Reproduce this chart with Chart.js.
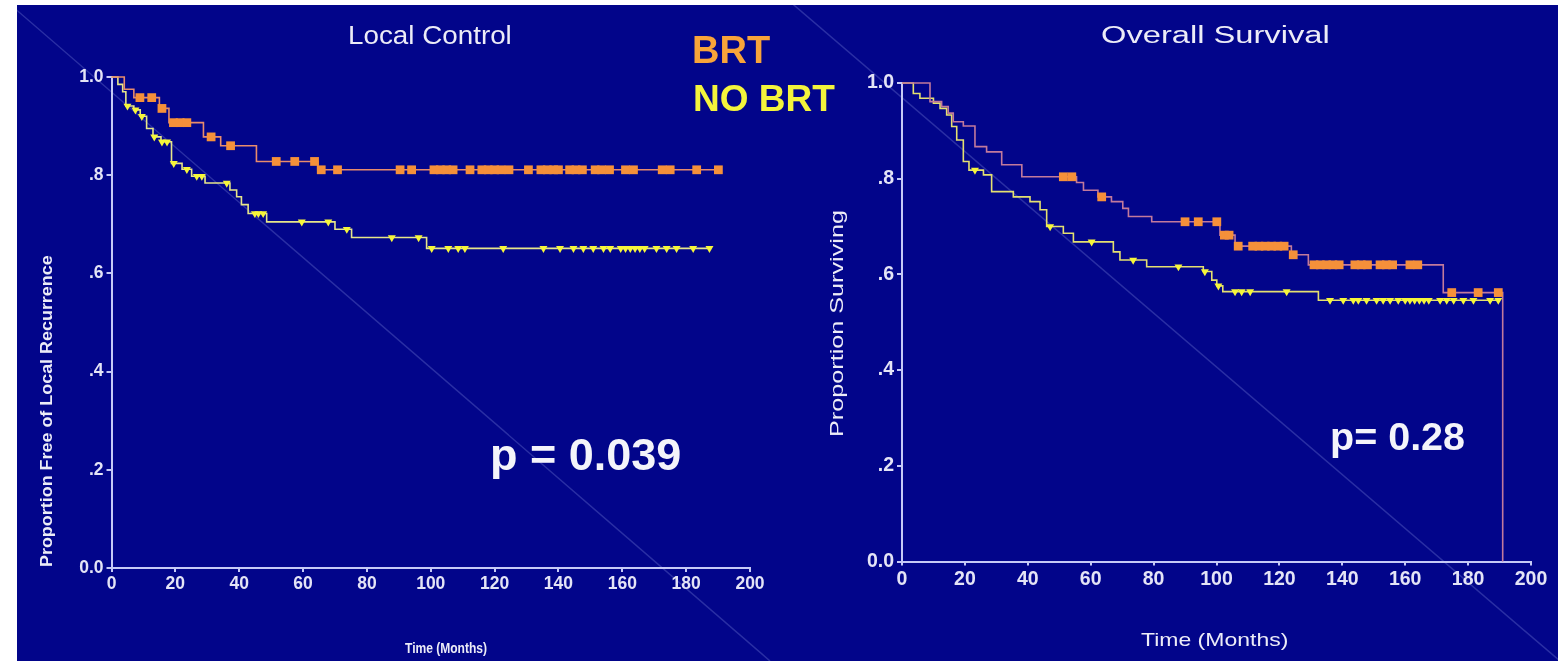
<!DOCTYPE html>
<html>
<head>
<meta charset="utf-8">
<script src="https://cdn.jsdelivr.net/npm/chart.js@4/dist/chart.umd.min.js"></script>
<style>
html,body{margin:0;padding:0;background:#fff;}
#stage{position:relative;width:1565px;height:661px;overflow:hidden;background:#fff;font-family:"Liberation Sans",Arial,sans-serif;}
#panel{position:absolute;left:17px;top:5px;width:1541px;height:656px;background:#02058a;}
#diag{position:absolute;left:0;top:0;}
canvas{position:absolute;}
.t{position:absolute;white-space:nowrap;line-height:1;transform-origin:0 0;color:#ececf7;}
</style>
</head>
<body>
<div id="stage">
  <div id="panel"></div>
  <svg id="diag" width="1565" height="661">
    <defs><clipPath id="pc"><rect x="17" y="5" width="1541" height="656"/></clipPath></defs>
    <g clip-path="url(#pc)" stroke="#2a2fa4" stroke-width="1.5">
      <line x1="5" y1="0" x2="770" y2="661"/>
      <line x1="788" y1="0" x2="1560" y2="661"/>
    </g>
  </svg>
  <canvas id="cL" width="770" height="656" style="left:17px;top:5px;width:770px;height:656px"></canvas>
  <canvas id="cR" width="771" height="656" style="left:787px;top:5px;width:771px;height:656px"></canvas>

  <div class="t" style="left:348px;top:23.4px;font-size:25.5px;transform:scaleX(1.09)">Local Control</div>
  <div class="t" style="left:1101px;top:23.8px;font-size:23px;transform:scaleX(1.42)">Overall Survival</div>
  <div class="t" style="left:692px;top:30.8px;font-size:38px;font-weight:bold;color:#f8a43a">BRT</div>
  <div class="t" style="left:693px;top:80.4px;font-size:37px;font-weight:bold;color:#f4f43c">NO BRT</div>
  <div class="t" style="left:490px;top:432px;font-size:45px;font-weight:bold;color:#f4f4fa">p = 0.039</div>
  <div class="t" style="left:1330px;top:416.6px;font-size:39.5px;font-weight:bold;color:#f4f4fa">p= 0.28</div>
  <div class="t" style="left:39px;top:567px;font-size:16px;font-weight:bold;transform:rotate(-90deg) scaleX(1.12)">Proportion Free of Local Recurrence</div>
  <div class="t" style="left:828px;top:437px;font-size:18px;transform:rotate(-90deg) scaleX(1.40)">Proportion Surviving</div>
  <div class="t" style="left:404.5px;top:641px;font-size:14px;font-weight:bold;transform:scaleX(0.86)">Time (Months)</div>
  <div class="t" style="left:1141px;top:630px;font-size:19px;transform:scaleX(1.21)">Time (Months)</div>
</div>

<script>
// ---------- data ----------
const xTickLabels = ['0','20','40','60','80','100','120','140','160','180','200'];
const yTickLabels = ['0.0','.2','.4','.6','.8','1.0'];

// Local Control – BRT (events: time in months, proportion free of local recurrence)
const lcBrtEventTimes = [0, 4, 7, 15, 18, 28.8, 34.2, 45.4, 64.6, 190.1];
const lcBrtEventSurv  = [1.0, 0.975, 0.958, 0.936, 0.907, 0.878, 0.86, 0.828, 0.811, 0.811];
const lcBrtCensorTimes = [8.9, 12.6, 15.8, 19.4, 21.5, 23.6, 31.2, 37.3, 51.6, 57.4, 63.6, 65.7, 70.8,
  90.4, 94.0, 101, 103, 105, 107, 112.3, 116, 118, 120, 122, 124.5, 130.6, 134.5, 136.5, 138.5, 140,
  143.5, 145.5, 147.5, 151.5, 153.5, 156, 161, 163.5, 172.5, 175, 183.3, 190.1];

// Local Control – NO BRT
const lcNoEventTimes = [0, 2, 3.5, 4.5, 7, 9, 11, 13, 15.5, 18.8, 22.1, 25.1, 29.3, 37.1, 39.2, 40.7, 42.8, 48.6, 70, 75.2, 98.7, 187.3];
const lcNoEventSurv  = [1.0, 0.985, 0.97, 0.941, 0.933, 0.92, 0.895, 0.878, 0.868, 0.824, 0.812, 0.798, 0.784, 0.77, 0.756, 0.74, 0.722, 0.705, 0.69, 0.673, 0.651, 0.651];
const lcNoCensorTimes = [5, 7.5, 9.5, 13.4, 15.8, 17.4, 19.5, 23.6, 26.7, 28.3, 36.1, 44.9, 46, 47.5, 59.6, 67.9,
  73.7, 87.8, 96.2, 100.3, 105.5, 108.6, 110.7, 122.7, 135.3, 140.5, 144.7, 147.8, 150.9, 154.1, 156.2,
  159.5, 161, 162.5, 164, 165.5, 167, 170.7, 173.9, 177.0, 182.2, 187.3];

// Overall Survival – BRT
const osBrtEventTimes = [0, 8.9, 12.6, 14.7, 16.3, 19.5, 23.2, 26.9, 31.7, 38.1, 55.5, 57.7, 62.3, 66.6, 70.2, 72, 79.4, 101.1, 105.9, 123.8, 129.2, 172.1, 191];
const osBrtEventSurv  = [1.0, 0.961, 0.951, 0.937, 0.919, 0.91, 0.867, 0.856, 0.829, 0.804, 0.792, 0.776, 0.762, 0.752, 0.738, 0.721, 0.71, 0.682, 0.659, 0.641, 0.62, 0.562, 0];
const osBrtCensorTimes = [51.3, 54, 63.5, 90, 94.2, 100.1, 102.5, 104, 106.9, 111.5, 113.5, 115.5, 117.5, 119.5, 121.5,
  124.4, 131, 133, 135, 137, 139, 144, 146, 148, 152, 154, 156, 161.5, 164, 174.8, 183.2, 189.6];

// Overall Survival – NO BRT
const osNoEventTimes = [0, 3.6, 5.7, 10, 12.1, 14.2, 15.8, 17.4, 19.5, 21.3, 25.9, 28.5, 35.4, 40.7, 43.9, 46, 51.3, 54.5, 67.2, 69.3, 77.8, 95.8, 98.5, 100.1, 102, 132.4, 189.6];
const osNoEventSurv  = [1.0, 0.978, 0.968, 0.958, 0.947, 0.933, 0.909, 0.881, 0.836, 0.818, 0.808, 0.773, 0.762, 0.752, 0.735, 0.70, 0.686, 0.668, 0.647, 0.63, 0.616, 0.606, 0.588, 0.576, 0.564, 0.546, 0.546];
const osNoCensorTimes = [23.2, 47.1, 60.3, 73.5, 87.9, 96.3, 100.6, 105.9, 108, 110.7, 122.3, 136.1, 140.3, 143.5, 145.1,
  147.7, 150.9, 153, 155.2, 157.8, 160, 161.5, 163, 164.5, 166, 167.5, 171.1, 173.2, 175.4, 178.5, 181.7, 187, 189.6];

// ---------- helpers ----------
function curvePoints(times, surv) { return times.map((t, i) => ({x: t, y: surv[i]})); }
function levelAt(times, surv, t) {
  let v = surv[0];
  for (let i = 0; i < times.length; i++) { if (times[i] <= t) v = surv[i]; }
  return v;
}
function censorPoints(ctimes, times, surv) { return ctimes.map(t => ({x: t, y: levelAt(times, surv, t)})); }

const AXIS = '#c6caf6';
const TICK = '#e4e4f6';
const TICKFONT = '"Liberation Sans Narrow", "Liberation Sans", Arial, sans-serif';

function buildChart(id, o) {
  return new Chart(document.getElementById(id), {
    type: 'scatter',
    data: {
      datasets: [
        {data: curvePoints(o.noT, o.noS), showLine: true, stepped: 'before', borderColor: o.noLine, borderWidth: 1.6, pointRadius: 0, clip: false, order: 3},
        {data: curvePoints(o.brtT, o.brtS), showLine: true, stepped: 'before', borderColor: o.brtLine, borderWidth: 1.6, pointRadius: 0, clip: false, order: 2},
        {data: censorPoints(o.noC, o.noT, o.noS), showLine: false, pointStyle: 'triangle', rotation: 180, pointRadius: 4.6,
         backgroundColor: '#f6f63a', borderColor: '#f6f63a', borderWidth: 0, clip: false, order: 1},
        {data: censorPoints(o.brtC, o.brtT, o.brtS), showLine: false, pointStyle: 'rect', pointRadius: 6.2,
         backgroundColor: '#f5903a', borderColor: '#f5903a', borderWidth: 0, clip: false, order: 0}
      ]
    },
    options: {
      responsive: false, animation: false, events: [],
      layout: {padding: o.pad},
      plugins: {legend: {display: false}, tooltip: {enabled: false}, title: {display: false}},
      scales: {
        x: {
          type: 'linear', min: 0, max: 200,
          ticks: {stepSize: 20, autoSkip: false, maxRotation: 0, color: TICK, padding: 2,
                  font: {family: TICKFONT, size: o.fs, weight: 'bold'},
                  callback: (v, i) => xTickLabels[i]},
          grid: {drawOnChartArea: false, drawTicks: true, tickLength: 4, color: AXIS, lineWidth: 2},
          border: {display: true, color: AXIS, width: 2},
          afterFit: s => { s.height = o.xh; }
        },
        y: {
          type: 'linear', min: 0, max: 1,
          ticks: {stepSize: 0.2, color: TICK, padding: 3,
                  font: {family: TICKFONT, size: o.fs, weight: 'bold'},
                  callback: (v, i) => yTickLabels[i]},
          grid: {drawOnChartArea: false, drawTicks: true, tickLength: 5, color: AXIS, lineWidth: 2},
          border: {display: true, color: AXIS, width: 2},
          afterFit: s => { s.width = o.yw; }
        }
      }
    }
  });
}

buildChart('cL', {
  brtT: lcBrtEventTimes, brtS: lcBrtEventSurv, brtC: lcBrtCensorTimes,
  noT: lcNoEventTimes, noS: lcNoEventSurv, noC: lcNoCensorTimes,
  brtLine: '#e88c6c', noLine: '#e6e68a',
  pad: {left: 0, right: 37, top: 72, bottom: 0}, yw: 94.5, xh: 93, fs: 17.5
});
buildChart('cR', {
  brtT: osBrtEventTimes, brtS: osBrtEventSurv, brtC: osBrtCensorTimes,
  noT: osNoEventTimes, noS: osNoEventSurv, noC: osNoCensorTimes,
  brtLine: '#c27a9c', noLine: '#e4e070',
  pad: {left: 0, right: 27, top: 78, bottom: 0}, yw: 115, xh: 99.5, fs: 19.5
});
</script>
</body>
</html>
